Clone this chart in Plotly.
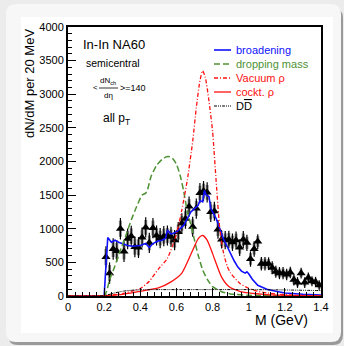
import plotly.graph_objects as go

# ---------------- data ----------------
data_m = [0.21, 0.23, 0.25, 0.27, 0.29, 0.31, 0.33, 0.35, 0.37, 0.39,
          0.41, 0.43, 0.45, 0.47, 0.49, 0.51, 0.53, 0.55, 0.57, 0.59,
          0.61, 0.63, 0.65, 0.67, 0.69, 0.71, 0.73, 0.75, 0.77, 0.79,
          0.81, 0.83, 0.85, 0.87, 0.89, 0.91, 0.93, 0.95, 0.97, 0.99,
          1.01, 1.03, 1.05, 1.07, 1.09, 1.11, 1.13, 1.15, 1.17, 1.19,
          1.21, 1.23, 1.25, 1.27, 1.29, 1.31, 1.33, 1.35, 1.37, 1.39]
data_v = [580, 340, 700, 670, 1000, 660, 850, 890, 730, 720,
          870, 1020, 790, 1010, 900, 860, 890, 900, 880, 830,
          950, 1080, 1150, 1330, 1030, 1300, 1530, 1560, 1540, 1250,
          1260, 990, 840, 830, 840, 800, 830, 720, 840, 790,
          550, 700, 810, 480, 480, 480, 420, 360, 340, 340,
          320, 350, 240, 200, 340, 200, 270, 220, 210, 160]
data_err = [160, 160, 160, 160, 160, 155, 155, 155, 155, 155,
            150, 150, 150, 150, 150, 150, 150, 150, 150, 150,
            150, 150, 150, 150, 150, 150, 150, 150, 150, 150,
            140, 140, 135, 135, 130, 130, 130, 125, 125, 120,
            115, 115, 110, 100, 100, 95, 95, 90, 90, 90,
            85, 85, 85, 80, 80, 80, 80, 75, 75, 75]
data_sys = [120, 120, 120, 120, 120, 115, 115, 115, 115, 115,
            110, 110, 110, 110, 110, 110, 110, 110, 110, 110,
            110, 110, 110, 110, 110, 110, 110, 110, 110, 110,
            100, 100, 100, 100, 95, 95, 95, 90, 90, 90,
            85, 85, 80, 75, 75, 70, 70, 65, 65, 65,
            60, 60, 60, 55, 55, 55, 55, 50, 50, 50]

broad_m = [0.0, 0.2, 0.21, 0.22, 0.24, 0.26, 0.28, 0.30, 0.33, 0.36, 0.40,
           0.43, 0.45, 0.47, 0.50, 0.52, 0.54, 0.55, 0.57, 0.60, 0.62, 0.64,
           0.66, 0.68, 0.70, 0.72, 0.73, 0.745, 0.755, 0.765, 0.78, 0.79,
           0.80, 0.82, 0.84, 0.86, 0.88, 0.90, 0.92, 0.94, 0.96, 0.98, 0.99,
           1.00, 1.02, 1.05, 1.10, 1.15, 1.20, 1.30, 1.40]
broad_v = [0, 0, 450, 870, 800, 830, 800, 780, 750, 740, 750,
           780, 720, 780, 820, 830, 860, 980, 920, 950, 1000, 1050,
           1150, 1250, 1300, 1350, 1420, 1400, 1570, 1500, 1480, 1300,
           1250, 1150, 1000, 850, 740, 620, 520, 430, 370, 340, 360,
           330, 250, 160, 100, 70, 45, 25, 15]

drop_m = [0.0, 0.2, 0.23, 0.26, 0.29, 0.32, 0.35, 0.38, 0.41, 0.43, 0.44,
          0.46, 0.49, 0.52, 0.545, 0.565, 0.58, 0.60, 0.62, 0.64, 0.66,
          0.68, 0.70, 0.72, 0.745, 0.77, 0.80, 0.85, 0.90, 1.00, 1.20, 1.40]
drop_v = [0, 0, 240, 450, 680, 900, 1130, 1330, 1500, 1530, 1580,
          1780, 1940, 2030, 2070, 2070, 2040, 1960, 1800, 1560, 1260,
          1060, 830, 610, 390, 250, 140, 64, 30, 10, 3, 0]

vac_m = [0.0, 0.2, 0.25, 0.30, 0.35, 0.40, 0.45, 0.50, 0.55, 0.60, 0.63,
         0.66, 0.69, 0.71, 0.73, 0.745, 0.76, 0.78, 0.80, 0.82, 0.84,
         0.86, 0.88, 0.90, 0.95, 1.00, 1.05, 1.10, 1.20, 1.30, 1.40]
vac_v = [0, 0, 15, 35, 70, 110, 220, 400, 560, 920, 1280,
         1720, 2300, 2800, 3200, 3350, 3250, 2900, 2450, 1700, 1000,
         650, 450, 340, 190, 115, 70, 45, 20, 8, 3]

cock_m = [0.0, 0.05, 0.20, 0.29, 0.40, 0.50, 0.57, 0.63, 0.69, 0.72,
          0.745, 0.77, 0.80, 0.85, 0.89, 0.95, 1.00, 1.10, 1.20, 1.40]
cock_v = [0, 0, 5, 20, 70, 120, 210, 340, 680, 850,
          900, 830, 630, 280, 140, 70, 45, 20, 10, 3]

dd_m = [0.0, 0.2, 0.25, 0.30, 0.35, 0.40, 0.50, 0.60, 0.80, 1.00, 1.20, 1.40]
dd_v = [0, 5, 40, 70, 85, 92, 95, 95, 95, 95, 90, 80]

x_ticks = [0, 0.2, 0.4, 0.6, 0.8, 1.0, 1.2, 1.4]
x_labels = ["0", "0.2", "0.4", "0.6", "0.8", "1", "1.2", "1.4"]
y_ticks = [0, 500, 1000, 1500, 2000, 2500, 3000, 3500, 4000]
y_labels = ["0", "500", "1000", "1500", "2000", "2500", "3000", "3500", "4000"]

legend_names = ["broadening", "dropping mass", "Vacuum \u03c1", "cockt. \u03c1",
                "D<span style='text-decoration:overline'>D</span>"]

BLUE = "#1010ff"
GREEN = "#4e9234"
RED = "#ff1010"
BLACK = "#000000"

# ---------------- layout geometry (pixels) ----------------
W, H = 344, 346
L, R, T, B = 68, 321, 27, 296   # plot area edges in px


def px(xp):
    return (xp - L) / (R - L)


def py(yp):
    return (B - yp) / (B - T)


fig = go.Figure()

# data: systematic (gray) then statistical (black)
fig.add_trace(go.Scatter(
    x=data_m, y=data_v, mode="markers", showlegend=False,
    marker=dict(size=1, color="rgba(0,0,0,0)"),
    error_y=dict(type="data", array=data_sys, color="#8c8c8c", thickness=3, width=0),
    hoverinfo="skip"))
fig.add_trace(go.Scatter(
    x=data_m, y=data_v, mode="markers", showlegend=False,
    marker=dict(symbol="triangle-up", size=8, color="black"),
    error_y=dict(type="data", array=data_err, color="black", thickness=1.2, width=0)))

curves = [
    (broad_m, broad_v, BLUE, "solid", 1.6, "linear"),
    (drop_m, drop_v, GREEN, "6px,3px", 1.5, "spline"),
    (vac_m, vac_v, RED, "4px,2px,1px,2px", 1.3, "spline"),
    (cock_m, cock_v, RED, "solid", 1.3, "spline"),
    (dd_m, dd_v, BLACK, "3px,1px,1px,1px,1px,1px", 1.0, "spline"),
]
for (m, v, c, d, w, shp), name in zip(curves, legend_names):
    fig.add_trace(go.Scatter(
        x=m, y=v, mode="lines", name=name, showlegend=False,
        line=dict(color=c, dash=d, width=w, shape=shp, smoothing=0.6)))

shapes = []
annotations = []


def rounded(x0, y0, x1, y1, r):
    rx = r / (R - L)
    ry = r / (B - T)
    X0, X1 = px(x0), px(x1)
    Y0, Y1 = py(y1), py(y0)   # bottom, top in paper
    return (f"M {X0+rx},{Y0} L {X1-rx},{Y0} Q {X1},{Y0} {X1},{Y0+ry} "
            f"L {X1},{Y1-ry} Q {X1},{Y1} {X1-rx},{Y1} L {X0+rx},{Y1} "
            f"Q {X0},{Y1} {X0},{Y1-ry} L {X0},{Y0+ry} Q {X0},{Y0} {X0+rx},{Y0} Z")


# frame decoration: shadow, panel, inner white canvas
shapes.append(dict(type="path", xref="paper", yref="paper", layer="below",
                   path=rounded(8, 8, 343, 345, 10), fillcolor="#9a9a9a",
                   line=dict(width=0)))
shapes.append(dict(type="path", xref="paper", yref="paper", layer="below",
                   path=rounded(6, 4, 341, 342, 10), fillcolor="#f7f7f7",
                   line=dict(width=0)))
shapes.append(dict(type="rect", xref="paper", yref="paper", layer="below",
                   x0=px(21), x1=px(333), y0=py(333), y1=py(17),
                   fillcolor="#ffffff", line=dict(width=0)))

# custom legend
leg_rows = [50, 64, 78, 92, 106]
for (m, v, c, d, w, shp), name, ry in zip(curves, legend_names, leg_rows):
    shapes.append(dict(type="line", xref="paper", yref="paper",
                       x0=px(214), x1=px(231), y0=py(ry), y1=py(ry),
                       line=dict(color=c, dash=d, width=w)))
    annotations.append(dict(xref="paper", yref="paper", x=px(234), y=py(ry),
                            xanchor="left", yanchor="middle", showarrow=False,
                            text=name, font=dict(size=11, color=c)))

# text labels
FONT = "Liberation Sans, Arial, sans-serif"
annotations += [
    dict(x=px(81), y=py(44), xanchor="left", yanchor="middle", text="In-In NA60",
         font=dict(size=13)),
    dict(x=px(84), y=py(63), xanchor="left", yanchor="middle", text="semicentral",
         font=dict(size=10.5)),
    dict(x=px(95), y=py(88), xanchor="center", yanchor="middle", text="&lt;",
         font=dict(size=8)),
    dict(x=px(108), y=py(81), xanchor="center", yanchor="middle",
         text="dN<sub>ch</sub>", font=dict(size=8)),
    dict(x=px(108), y=py(95), xanchor="center", yanchor="middle", text="d\u03b7",
         font=dict(size=8)),
    dict(x=px(118), y=py(88), xanchor="left", yanchor="middle", text="&gt;=140",
         font=dict(size=9)),
    dict(x=px(101), y=py(119), xanchor="left", yanchor="middle",
         text="all p<sub>T</sub>", font=dict(size=12)),
    dict(x=px(29), y=py(84), xanchor="center", yanchor="middle", textangle=-90,
         text="dN/dM per 20 MeV", font=dict(size=13)),
    dict(x=px(310), y=py(320), xanchor="right", yanchor="middle",
         text="M (GeV)", font=dict(size=14)),
]
for a in annotations:
    a.setdefault("xref", "paper")
    a.setdefault("yref", "paper")
    a.setdefault("showarrow", False)
    a.setdefault("font", {})
    a["font"].setdefault("color", "black")
    a["font"]["family"] = FONT

shapes.append(dict(type="line", xref="paper", yref="paper",
                   x0=px(99), x1=px(118), y0=py(88), y1=py(88),
                   line=dict(color="black", width=0.8)))

axis_common = dict(showgrid=False, zeroline=False, showline=True, linecolor="black",
                   linewidth=2, mirror=True, ticks="inside", ticklen=8,
                   tickwidth=1.2, tickcolor="black",
                   tickfont=dict(size=11, color="black", family=FONT))

fig.update_layout(
    width=W, height=H, autosize=False,
    margin=dict(l=L, r=W - R, t=T, b=H - B, pad=0),
    paper_bgcolor="#ececec", plot_bgcolor="rgba(0,0,0,0)",
    showlegend=False,
    xaxis=dict(range=[0, 1.4], tickvals=x_ticks, ticktext=x_labels,
               minor=dict(dtick=0.04, tick0=0, ticks="inside", ticklen=4,
                          tickcolor="black", tickwidth=1, showgrid=False),
               **axis_common),
    yaxis=dict(range=[0, 4000], tickvals=y_ticks, ticktext=y_labels,
               minor=dict(dtick=100, tick0=0, ticks="inside", ticklen=4,
                          tickcolor="black", tickwidth=1, showgrid=False),
               **axis_common),
    shapes=shapes,
    annotations=annotations,
    font=dict(family=FONT, color="black"),
)

fig.write_html(
    "out.html",
    config={"displayModeBar": False, "staticPlot": True},
    post_script="document.body.style.margin='0';document.body.style.padding='0';"
                "document.body.style.background='#ececec';"
                "document.documentElement.style.overflow='hidden';",
)
